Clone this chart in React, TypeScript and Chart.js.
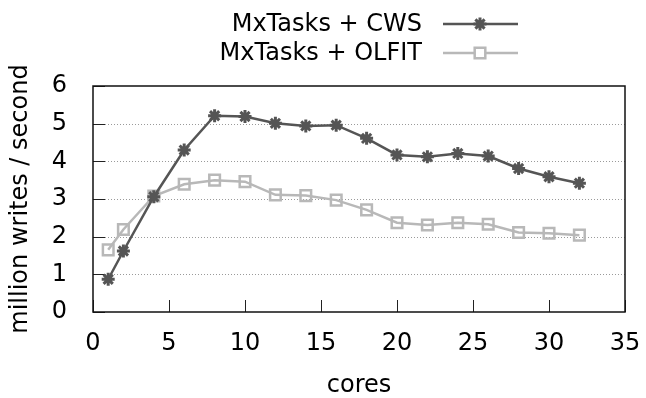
import React, { useEffect, useRef } from "react";
import { Chart, registerables } from "chart.js";

Chart.register(...registerables);

const cores = [1, 2, 4, 6, 8, 10, 12, 14, 16, 18, 20, 22, 24, 26, 28, 30, 32];
const cwsValues = [0.87, 1.62, 3.06, 4.3, 5.21, 5.19, 5.01, 4.94, 4.96, 4.61, 4.17, 4.12, 4.21, 4.14, 3.81, 3.59, 3.42];
const olfitValues = [1.65, 2.19, 3.08, 3.39, 3.5, 3.46, 3.11, 3.09, 2.97, 2.71, 2.37, 2.31, 2.37, 2.33, 2.11, 2.09, 2.04];
const seriesLabels = ["MxTasks + CWS", "MxTasks + OLFIT"];
const xTicks = [0, 5, 10, 15, 20, 25, 30, 35];
const yTicks = [0, 1, 2, 3, 4, 5, 6];

const FONT = "DejaVu Sans";
const DARK = "#555555";
const LIGHT = "#b8b8b8";

function drawMarker(ctx: CanvasRenderingContext2D, style: string, r: number, x: number, y: number) {
  ctx.beginPath();
  if (style === "star") {
    const d = r * Math.SQRT1_2;
    ctx.moveTo(x - r, y);
    ctx.lineTo(x + r, y);
    ctx.moveTo(x, y - r);
    ctx.lineTo(x, y + r);
    ctx.moveTo(x - d, y - d);
    ctx.lineTo(x + d, y + d);
    ctx.moveTo(x - d, y + d);
    ctx.lineTo(x + d, y - d);
  } else {
    const s = r * Math.SQRT1_2;
    ctx.rect(x - s, y - s, 2 * s, 2 * s);
  }
  ctx.stroke();
}

const framePlugin = {
  id: "gnuframe",
  beforeDatasetsDraw(chart: any) {
    const { ctx, chartArea: a, scales } = chart;
    const x = scales.x;
    const y = scales.y;
    ctx.save();
    ctx.strokeStyle = "#9a9a9a";
    ctx.lineWidth = 1;
    ctx.setLineDash([1, 2]);
    for (const v of yTicks) {
      if (v === yTicks[0] || v === yTicks[yTicks.length - 1]) continue;
      const py = Math.round(y.getPixelForValue(v)) + 0.5;
      ctx.beginPath();
      ctx.moveTo(a.left + 12, py);
      ctx.lineTo(a.right, py);
      ctx.stroke();
    }
    ctx.setLineDash([]);
    ctx.strokeStyle = "#222";
    ctx.lineWidth = 1;
    for (const v of yTicks) {
      const py = Math.round(y.getPixelForValue(v)) + 0.5;
      ctx.beginPath();
      ctx.moveTo(a.left, py);
      ctx.lineTo(a.left + 12, py);
      ctx.stroke();
    }
    for (const v of xTicks) {
      const px = Math.round(x.getPixelForValue(v)) + 0.5;
      ctx.beginPath();
      ctx.moveTo(px, a.bottom);
      ctx.lineTo(px, a.bottom - 12);
      ctx.stroke();
    }
    ctx.strokeStyle = "#111";
    ctx.lineWidth = 1.5;
    ctx.strokeRect(a.left, a.top, a.right - a.left, a.bottom - a.top);
    ctx.restore();
  },
  afterDraw(chart: any) {
    const { ctx } = chart;
    const rowsY = [24, 53];
    ctx.save();
    ctx.font = `24px "${FONT}"`;
    ctx.fillStyle = "#000";
    ctx.textAlign = "right";
    ctx.textBaseline = "middle";
    chart.data.datasets.forEach((ds: any, i: number) => {
      const ry = rowsY[i];
      ctx.fillStyle = "#000";
      ctx.fillText(seriesLabels[i], 422, ry + 1);
      ctx.strokeStyle = ds.borderColor;
      ctx.lineWidth = ds.borderWidth;
      ctx.beginPath();
      ctx.moveTo(443, ry);
      ctx.lineTo(518, ry);
      ctx.stroke();
      ctx.strokeStyle = ds.pointBorderColor;
      ctx.lineWidth = ds.pointBorderWidth;
      if (ds.pointStyle === "rect") {
        ctx.fillStyle = "#fff";
        const s = ds.pointRadius * Math.SQRT1_2;
        ctx.fillRect(480 - s, ry - s, 2 * s, 2 * s);
      }
      drawMarker(ctx, ds.pointStyle, ds.pointRadius, 480, ry);
    });
    ctx.restore();
  },
};

export default function App() {
  const ref = useRef<HTMLCanvasElement | null>(null);
  useEffect(() => {
    if (!ref.current) return;
    const chart = new Chart(ref.current, {
      type: "line",
      data: {
        labels: cores,
        datasets: [
          {
            label: seriesLabels[0],
            data: cores.map((c, i) => ({ x: c, y: cwsValues[i] })),
            borderColor: DARK,
            backgroundColor: DARK,
            borderWidth: 2.5,
            pointStyle: "star",
            pointRadius: 6.5,
            pointBorderWidth: 3,
            pointBorderColor: DARK,
            pointBackgroundColor: DARK,
          },
          {
            label: seriesLabels[1],
            data: cores.map((c, i) => ({ x: c, y: olfitValues[i] })),
            borderColor: LIGHT,
            backgroundColor: "rgba(0,0,0,0)",
            borderWidth: 2.5,
            pointStyle: "rect",
            pointRadius: 7.5,
            pointBorderWidth: 2.5,
            pointBorderColor: LIGHT,
            pointBackgroundColor: "rgba(0,0,0,0)",
          },
        ],
      },
      options: {
        animation: false,
        responsive: false,
        maintainAspectRatio: false,
        layout: { padding: { top: 86, right: 21, left: 0, bottom: 0 } },
        plugins: { legend: { display: false }, tooltip: { enabled: false } },
        scales: {
          x: {
            type: "linear",
            min: 0,
            max: 35,
            afterBuildTicks: (s: any) => {
              s.ticks = xTicks.map((v) => ({ value: v }));
            },
            afterFit: (s: any) => {
              s.height = 86;
              s.paddingLeft = 0;
              s.paddingRight = 0;
            },
            grid: { display: false },
            border: { display: false },
            ticks: {
              color: "#000",
              font: { family: FONT, size: 24 },
              padding: 9,
              maxRotation: 0,
            },
            title: {
              display: true,
              text: "cores",
              color: "#000",
              font: { family: FONT, size: 24, lineHeight: 1.0 },
              padding: { top: 0, bottom: 0 },
            },
          },
          y: {
            type: "linear",
            min: 0,
            max: 6,
            afterBuildTicks: (s: any) => {
              s.ticks = yTicks.map((v) => ({ value: v }));
            },
            afterFit: (s: any) => {
              s.width = 93;
              s.paddingTop = 0;
              s.paddingBottom = 0;
            },
            grid: { display: false },
            border: { display: false },
            ticks: {
              color: "#000",
              font: { family: FONT, size: 24 },
              padding: 18,
            },
            title: {
              display: true,
              text: "million writes / second",
              color: "#000",
              font: { family: FONT, size: 24 },
              padding: { top: 6, bottom: 0 },
            },
          },
        },
      },
      plugins: [framePlugin],
    } as any);
    return () => chart.destroy();
  }, []);
  return (
    <div style={{ position: "fixed", left: 0, top: 0, width: 646, height: 398, background: "#fff" }}>
      <canvas ref={ref} width={646} height={398} style={{ width: 646, height: 398 }} />
    </div>
  );
}
